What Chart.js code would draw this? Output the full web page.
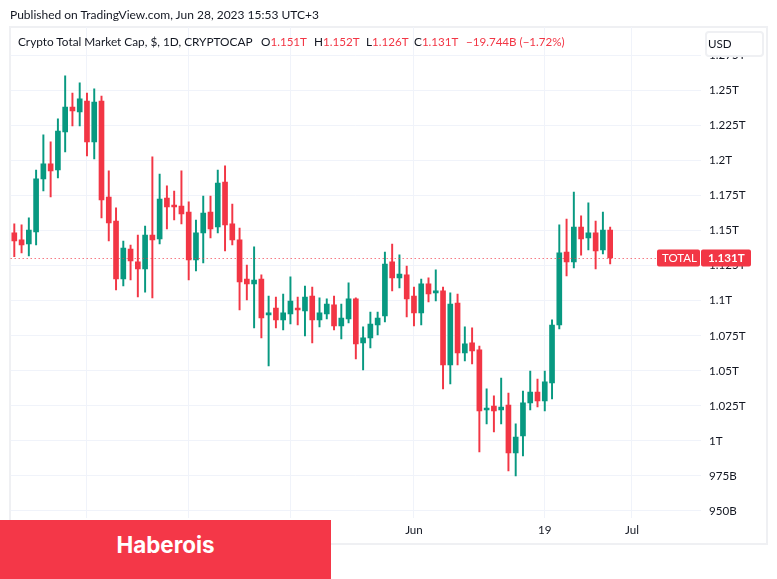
<!DOCTYPE html>
<html>
<head>
<meta charset="utf-8">
<title>Crypto Total Market Cap</title>
<script src="https://cdn.jsdelivr.net/npm/chart.js@4"></script>
<style>
  html, body { margin: 0; padding: 0; background: #fff; }
  body { position: relative; width: 777px; height: 579px; overflow: hidden; font-family: Lato, sans-serif; color: #131722; }
  canvas { position: absolute; left: 0; top: 0; }
  .abs { position: absolute; white-space: nowrap; }
  #published { left: 10px; top: 7px; font-size: 12px; line-height: 16px; }
  #frame { left: 9px; top: 26px; width: 755px; height: 515px; border: 2px solid #eff0f3; }
  .legend { top: 34px; font-size: 11.8px; line-height: 16px; }
  .red { color: #f23645; }
  .val { font-size: 11.6px; }
  #usd { left: 705px; top: 31px; width: 54px; height: 22px; padding-left: 1px; border: 2px solid #eff0f3; border-radius: 4px; background: #fff; font-size: 11.6px; line-height: 21px; }
  #banner { left: 0; top: 520px; width: 331px; height: 59px; background: #f43748; color: #fff; font-family: Inter, sans-serif; font-weight: 700; font-size: 22.4px; line-height: 50px; text-align: center; }
</style>
</head>
<body>
<div id="frame" class="abs"></div>
<canvas id="myChart" width="777" height="579"></canvas>
<div id="published" class="abs">Published on TradingView.com, Jun 28, 2023 15:53 UTC+3</div>
<div class="abs legend" style="left:18px">Crypto Total Market Cap, $, 1D, CRYPTOCAP</div>
<div class="abs legend" style="left:261px">O<span class="red val">1.151T</span></div>
<div class="abs legend" style="left:314px">H<span class="red val">1.152T</span></div>
<div class="abs legend" style="left:366px">L<span class="red val">1.126T</span></div>
<div class="abs legend" style="left:414px">C<span class="red val">1.131T</span></div>
<div class="abs legend red val" style="left:466px">−19.744B (−1.72%)</div>
<div id="usd" class="abs">USD</div>
<div id="banner" class="abs">Haberois</div>
<script>
  // daily candles, values in billions of USD
  const dates = ['Apr 7','Apr 8','Apr 9','Apr 10','Apr 11','Apr 12','Apr 13','Apr 14','Apr 15','Apr 16','Apr 17','Apr 18','Apr 19','Apr 20','Apr 21','Apr 22','Apr 23','Apr 24','Apr 25','Apr 26','Apr 27','Apr 28','Apr 29','Apr 30',
    'May 1','May 2','May 3','May 4','May 5','May 6','May 7','May 8','May 9','May 10','May 11','May 12','May 13','May 14','May 15','May 16','May 17','May 18','May 19','May 20','May 21','May 22','May 23','May 24','May 25','May 26','May 27','May 28','May 29','May 30','May 31',
    'Jun 1','Jun 2','Jun 3','Jun 4','Jun 5','Jun 6','Jun 7','Jun 8','Jun 9','Jun 10','Jun 11','Jun 12','Jun 13','Jun 14','Jun 15','Jun 16','Jun 17','Jun 18','Jun 19','Jun 20','Jun 21','Jun 22','Jun 23','Jun 24','Jun 25','Jun 26','Jun 27','Jun 28','Jun 29','Jun 30',
    'Jul 1','Jul 2','Jul 3','Jul 4','Jul 5','Jul 6','Jul 7','Jul 8','Jul 9','Jul 10'];
  const open = [1148.4,1143.4,1140.5,1149.1,1186.9,1197.6,1193.3,1220.4,1238.2,1234.7,1242.5,1213.3,1242.5,1174.0,1156.9,1115.5,1136.9,1127.7,1122.7,1146.9,1144.1,1173.3,
    1168.3,1167.6,1163.3,1129.1,1148.4,1163.3,1152.6,1184.7,1154.8,1143.4,1115.5,1112.0,1115.5,1089.9,1094.8,1086.3,1090.6,1094.8,1092.7,
    1103.4,1086.3,1090.6,1097.0,1082.0,1087.0,1101.3,1069.9,1073.5,1082.7,1089.1,1127.7,1116.3,1118.4,1103.4,1091.3,1112.0,1105.6,1107.0,
    1054.2,1098.4,1062.8,1069.9,1064.9,1022.1,1024.9,1022.1,1025.6,991.4,1003.5,1027.1,1034.9,1028.5,1041.4,1082.7,1134.8,1127.7,1152.6,1144.8,1148.4,1136.2,1150.5];
  const high = [1154.8,1154.1,1159.1,1193.3,1218.3,1213.3,1229.7,1260.4,1248.2,1255.4,1248.2,1251.1,1246.1,1192.6,1166.2,1142.6,1139.8,1146.9,1153.3,1202.6,1190.4,1181.9,
    1178.3,1192.6,1170.5,1157.6,1174.7,1174.7,1193.3,1196.2,1169.0,1151.9,1125.5,1138.4,1118.4,1103.4,1102.7,1104.8,1117.0,1102.7,1110.5,
    1109.8,1102.0,1101.3,1103.4,1097.7,1112.7,1102.0,1081.3,1092.0,1092.0,1134.8,1140.5,1132.7,1124.8,1109.8,1115.5,1116.3,1122.0,1109.8,
    1105.6,1104.8,1081.3,1080.6,1067.7,1037.1,1032.1,1044.9,1034.2,1012.1,1035.6,1049.9,1044.2,1049.9,1086.3,1154.1,1158.3,1177.6,1160.5,1169.8,1156.9,1163.3,1152.6];
  const low = [1131.5,1134.1,1132.0,1139.8,1178.3,1174.0,1187.6,1206.1,1224.7,1224.7,1203.3,1201.1,1159.1,1142.6,1107.7,1110.5,1114.8,1102.7,1106.2,1102.0,1140.5,1151.2,
    1157.6,1154.8,1114.8,1121.2,1127.0,1144.8,1148.4,1135.5,1139.8,1093.4,1100.6,1080.6,1073.4,1053.5,1080.6,1079.2,1083.4,1082.7,1074.9,
    1069.9,1081.3,1087.0,1079.2,1072.7,1084.2,1058.5,1050.6,1066.3,1075.6,1084.9,1107.0,1109.1,1088.4,1082.0,1082.7,1099.1,1099.8,1037.1,
    1040.6,1054.2,1057.0,1054.9,992.1,1012.1,1006.4,1012.1,978.6,975.0,989.3,1022.1,1024.2,1021.4,1029.9,1079.9,1117.7,1123.4,1132.6,1136.2,1122.7,1133.4,1126.2];
  const close = [1142.6,1139.8,1150.5,1186.9,1197.6,1192.6,1221.1,1238.2,1235.4,1244.0,1213.3,1241.8,1171.9,1155.5,1115.5,1137.6,1128.4,1122.7,1146.9,1143.4,1172.6,1166.9,
    1166.9,1161.9,1129.1,1148.4,1162.6,1151.2,1184.0,1154.1,1143.4,1113.4,1112.0,1114.8,1087.7,1091.3,1086.3,1091.3,1099.8,1093.4,1102.7,
    1086.3,1091.3,1097.7,1082.0,1087.7,1101.3,1069.2,1073.5,1083.4,1087.7,1126.2,1116.3,1119.1,1101.3,1091.3,1112.0,1104.8,1107.0,1054.2,
    1097.7,1062.8,1069.2,1064.2,1021.4,1023.5,1021.4,1024.2,991.4,1002.8,1027.1,1034.9,1028.5,1042.1,1082.7,1134.1,1127.7,1152.6,1144.1,1148.4,1135.5,1150.5,1130.5];

  const priceTicks = [950,975,1000,1025,1050,1075,1100,1125,1150,1175,1200,1225,1250,1275];
  const priceLabels = ['950B','975B','1T','1.025T','1.05T','1.075T','1.1T','1.125T','1.15T','1.175T','1.2T','1.225T','1.25T','1.275T'];
  const timeTicks = ['Apr 17','May 1','May 15','Jun 1','Jun 19','Jul 1'];
  // the first three sit under the banner in the picture
  const timeLabels = ['','','','Jun','19','Jul'];

  const RED = '#f23645';
  const GREEN = '#089981';
  const FONT = 'Lato, sans-serif';

  const candleColors = open.map((o, i) => close[i] >= o ? GREEN : RED);

  // dotted last price line and the two boxes on the price axis
  const lastPrice = {
    id: 'lastPrice',
    afterDraw(chart) {
      const c = chart.ctx;
      const y = Math.round(chart.scales.y.getPixelForValue(close[close.length - 1])) + 0.5;
      c.save();
      c.strokeStyle = RED;
      c.setLineDash([1, 3]);
      c.beginPath();
      c.moveTo(chart.chartArea.left, y);
      c.lineTo(657, y);
      c.stroke();
      c.setLineDash([]);
      c.fillStyle = RED;
      c.beginPath();
      c.roundRect(657, y - 9, 43, 17, 2);
      c.roundRect(701, y - 9, 50, 17, 2);
      c.fill();
      c.fillStyle = '#fff';
      c.font = '11.5px ' + FONT;
      c.textBaseline = 'middle';
      c.fillText('TOTAL', 662, y);
      c.font = 'bold 11.6px ' + FONT;
      c.fillText('1.131T', 708, y);
      c.restore();
    }
  };

  new Chart(document.getElementById('myChart'), {
    type: 'bar',
    data: {
      labels: dates,
      datasets: [
        {
          label: 'wick',
          data: high.map((h, i) => [low[i], h]),
          backgroundColor: candleColors,
          barThickness: 1.3,
          grouped: false
        },
        {
          label: 'body',
          data: open.map((o, i) => [o, close[i]]),
          backgroundColor: candleColors,
          barThickness: 5,
          grouped: false
        }
      ]
    },
    plugins: [lastPrice],
    options: {
      responsive: false,
      animation: false,
      layout: { padding: { left: 10.67, top: 27, right: 10, bottom: 37 } },
      plugins: { legend: { display: false }, tooltip: { enabled: false } },
      scales: {
        x: {
          offset: true,
          afterFit(s) { s.height = 24; },
          border: { display: false },
          grid: {
            offset: false,
            drawTicks: false,
            color: ctx => timeTicks.includes(dates[ctx.index]) ? '#f0f3fa' : 'transparent'
          },
          ticks: {
            autoSkip: false,
            maxRotation: 0,
            padding: 5,
            color: '#131722',
            font: { family: FONT, size: 11.6 },
            callback: (v, i) => {
              const k = timeTicks.indexOf(dates[i]);
              return k >= 0 ? timeLabels[k] : '';
            }
          }
        },
        y: {
          position: 'right',
          min: 945,
          max: 1295.3,
          afterFit(s) { s.width = 66; },
          afterBuildTicks(s) { s.ticks = priceTicks.map(v => ({ value: v })); },
          border: { display: false },
          grid: { drawTicks: false, color: '#f0f3fa' },
          ticks: {
            padding: 8,
            color: '#131722',
            font: { family: FONT, size: 11.6 },
            callback: v => priceLabels[priceTicks.indexOf(v)]
          }
        }
      }
    }
  });
</script>
</body>
</html>
